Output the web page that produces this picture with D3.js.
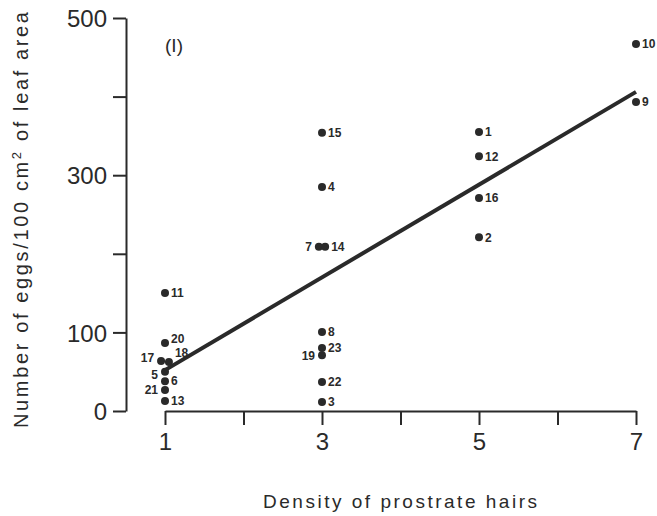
<!DOCTYPE html>
<html>
<head>
<meta charset="utf-8">
<script src="https://cdn.jsdelivr.net/npm/d3@7"></script>
<style>
  html, body { margin: 0; padding: 0; background: #fff; }
  svg { display: block; }
  text { font-family: "Liberation Sans", Arial, Helvetica, sans-serif; fill: #2a2a2a; }
</style>
</head>
<body>
<svg id="chart" width="657" height="516"></svg>
<script>
// ---- data ----
const pointIds   = [1, 2, 3, 4, 5, 6, 7, 8, 9, 10, 11, 12, 13, 14, 15, 16, 17, 18, 19, 20, 21, 22, 23];
const densityX   = [5, 5, 3, 3, 1, 1, 2.96, 3, 7, 7, 1, 5, 1, 3.04, 3, 5, 0.95, 1.05, 3, 1, 1, 3, 3];
const eggsY      = [355, 221, 11.5, 285, 50, 38, 209, 100.5, 393, 467, 150, 324, 12.7, 209, 354, 271, 63.6, 62.3, 71, 86.5, 26.7, 37, 80];
const leftLabelIds = [5, 7, 17, 19, 21];
const fitX       = [1, 7];
const fitY       = [52, 406];
const yTickValues = [0, 100, 200, 300, 400, 500];
const yTickLabels = ["0", "100", "", "300", "", "500"];
const xTickValues = [1, 2, 3, 4, 5, 6, 7];
const xTickLabels = ["1", "", "3", "", "5", "", "7"];
const panelLabel = "(I)";
const xTitle = "Density of prostrate hairs";

const ink = "#2a2a2a";
const svg = d3.select("#chart");

const x = d3.scaleLinear().domain([1, 7]).range([165, 636]);
const y = d3.scaleLinear().domain([0, 500]).range([411, 18]);

// y axis
const yAxis = d3.axisLeft(y)
  .tickValues(yTickValues)
  .tickSize(13)
  .tickSizeOuter(0)
  .tickPadding(6)
  .tickFormat((d, i) => yTickLabels[i]);
const gy = svg.append("g").attr("transform", "translate(126,0)").call(yAxis);
gy.select(".domain").attr("stroke", ink).attr("stroke-width", 2);
gy.selectAll(".tick line").attr("stroke", ink).attr("stroke-width", 2);
gy.selectAll(".tick text")
  .style("font-size", "24px").attr("fill", ink).attr("dy", "0.36em")
  .style("font-family", "'Liberation Sans', Arial, sans-serif");

// x axis
const xAxis = d3.axisBottom(x)
  .tickValues(xTickValues)
  .tickSize(14)
  .tickSizeOuter(0)
  .tickPadding(8)
  .tickFormat((d, i) => xTickLabels[i]);
const gx = svg.append("g").attr("transform", "translate(0,411)").call(xAxis);
gx.select(".domain").attr("stroke", ink).attr("stroke-width", 2);
gx.selectAll(".tick line").attr("stroke", ink).attr("stroke-width", 2);
gx.selectAll(".tick text")
  .style("font-size", "24px").attr("fill", ink)
  .style("font-family", "'Liberation Sans', Arial, sans-serif");

// regression line
const pts = fitX.map((d, i) => [d, fitY[i]]);
svg.append("path")
  .attr("d", d3.line().x(d => x(d[0])).y(d => y(d[1]))(pts))
  .attr("stroke", ink).attr("stroke-width", 4).attr("fill", "none");

// points
const data = pointIds.map((id, i) => ({ id, dx: densityX[i], ey: eggsY[i] }));
svg.append("g").selectAll("circle").data(data).join("circle")
  .attr("cx", d => x(d.dx)).attr("cy", d => y(d.ey)).attr("r", 4).attr("fill", ink);

// small vertical nudges for crowded labels (pixels)
const nudge = { 17: -3, 18: -9, 20: -4, 5: 3 };
svg.append("g").selectAll("text").data(data).join("text")
  .attr("x", d => leftLabelIds.includes(d.id) ? x(d.dx) - 7 : x(d.dx) + 6)
  .attr("y", d => y(d.ey) + (nudge[d.id] || 0))
  .attr("dy", "0.36em")
  .attr("text-anchor", d => leftLabelIds.includes(d.id) ? "end" : "start")
  .style("font-size", "12px").style("font-weight", "bold")
  .text(d => d.id);

// panel label
svg.append("text").attr("x", 174).attr("y", 52).attr("text-anchor", "middle")
  .style("font-size", "19px").text(panelLabel);

// axis titles
svg.append("text").attr("x", 263).attr("y", 508)
  .attr("textLength", 274).attr("lengthAdjust", "spacing")
  .style("font-size", "19px").text(xTitle);

const yt = svg.append("text")
  .attr("transform", "translate(28,428) rotate(-90)")
  .attr("x", 0).attr("y", 0)
  .attr("textLength", 416).attr("lengthAdjust", "spacing")
  .style("font-size", "20px");
yt.append("tspan").text("Number of eggs/100 cm");
yt.append("tspan").attr("dy", -7).style("font-size", "13px").text("2");
yt.append("tspan").attr("dy", 7).text(" of leaf area");
</script>
</body>
</html>
